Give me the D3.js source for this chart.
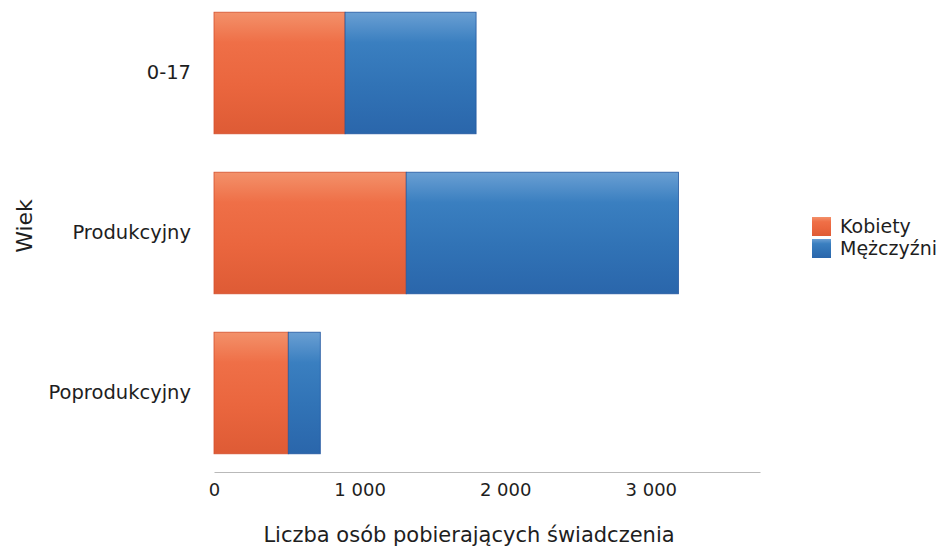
<!DOCTYPE html>
<html>
<head>
<meta charset="utf-8">
<script src="https://cdn.jsdelivr.net/npm/d3@7"></script>
<style>
  body { margin: 0; background: #fff; }
  text { font-family: "DejaVu Sans", sans-serif; fill: #1e1e1e; }
</style>
</head>
<body>
<div id="chart"></div>
<script>
// data
const ageGroups = ["0-17", "Produkcyjny", "Poprodukcyjny"];
const women = [900, 1320, 510];
const men = [900, 1870, 220];
const seriesNames = ["Kobiety", "Mężczyźni"];
const xTicks = [0, 1000, 2000, 3000];

const width = 942, height = 552;

const svg = d3.select("#chart").append("svg")
  .attr("width", width)
  .attr("height", height);

// gradients give the bars their soft rounded look
const defs = svg.append("defs");
const gradStops = {
  orange: ["#f3916a", "#ef6f47", "#ea663e", "#de5b35"],
  blue: ["#6a9fd3", "#3a7fc0", "#3173b6", "#2a66ab"]
};
Object.entries(gradStops).forEach(([name, cols]) => {
  const g = defs.append("linearGradient")
    .attr("id", "grad-" + name)
    .attr("x1", 0).attr("y1", 0).attr("x2", 0).attr("y2", 1);
  [0, 0.25, 0.6, 1].forEach((o, i) => {
    g.append("stop").attr("offset", o).attr("stop-color", cols[i]);
  });
});

const x = d3.scaleLinear()
  .domain([0, 3750])
  .range([214, 760]);

const y = d3.scaleBand()
  .domain(ageGroups)
  .range([-7, 473])
  .paddingInner(0.24)
  .paddingOuter(0.12);

const rows = ageGroups.map((g, i) => ({ group: g, k: women[i], m: men[i] }));

// women segment
svg.append("g").selectAll("rect")
  .data(rows)
  .join("rect")
  .attr("x", x(0))
  .attr("y", d => y(d.group))
  .attr("width", d => x(d.k) - x(0))
  .attr("height", y.bandwidth())
  .attr("fill", "url(#grad-orange)")
  .attr("stroke", "#d4512e")
  .attr("stroke-width", 0.8);

// men segment stacked after it
svg.append("g").selectAll("rect")
  .data(rows)
  .join("rect")
  .attr("x", d => x(d.k))
  .attr("y", d => y(d.group))
  .attr("width", d => x(d.k + d.m) - x(d.k))
  .attr("height", y.bandwidth())
  .attr("fill", "url(#grad-blue)")
  .attr("stroke", "#2358a0")
  .attr("stroke-width", 0.8);

// x axis
const xAxis = svg.append("g")
  .attr("transform", "translate(0,472)")
  .call(d3.axisBottom(x)
    .tickValues(xTicks)
    .tickSize(0)
    .tickPadding(11)
    .tickFormat(d => d3.format(",")(d).replace(/,/g, " ")));
xAxis.select(".domain").attr("stroke", "#b9b9b9").attr("stroke-width", 1);
xAxis.selectAll("text")
  .style("font-size", "18px")
  .style("font-family", "'DejaVu Sans', sans-serif")
  .attr("fill", "#1e1e1e");

// y axis labels
const yAxis = svg.append("g")
  .attr("transform", "translate(191,0)")
  .call(d3.axisLeft(y).tickSize(0).tickPadding(0));
yAxis.select(".domain").remove();
yAxis.selectAll("text")
  .style("font-size", "19.5px")
  .style("font-family", "'DejaVu Sans', sans-serif")
  .attr("fill", "#1e1e1e");

// axis titles
svg.append("text")
  .attr("x", 469)
  .attr("y", 542)
  .attr("text-anchor", "middle")
  .style("font-size", "21px")
  .text("Liczba osób pobierających świadczenia");

svg.append("text")
  .attr("transform", "translate(32,226) rotate(-90)")
  .attr("text-anchor", "middle")
  .style("font-size", "22px")
  .text("Wiek");

// legend
const legend = svg.append("g").attr("transform", "translate(812,217)");
const legendFill = ["url(#grad-orange)", "url(#grad-blue)"];
seriesNames.forEach((name, i) => {
  const row = legend.append("g").attr("transform", `translate(0,${i * 22})`);
  row.append("rect")
    .attr("width", 19).attr("height", 19)
    .attr("fill", legendFill[i]);
  row.append("text")
    .attr("x", 28).attr("y", 16)
    .style("font-size", "19px")
    .text(name);
});
</script>
</body>
</html>
